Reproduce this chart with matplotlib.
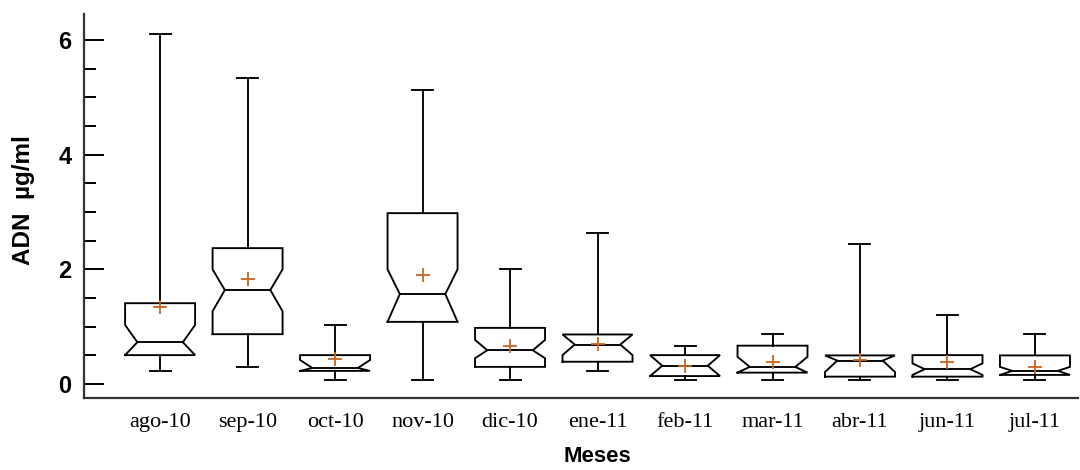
import numpy as np
import matplotlib
matplotlib.use("Agg")
import matplotlib.pyplot as plt
from matplotlib.ticker import MultipleLocator

meses = ["ago-10", "sep-10", "oct-10", "nov-10", "dic-10", "ene-11",
         "feb-11", "mar-11", "abr-11", "jun-11", "jul-11"]
bigote_inf = [0.23, 0.30, 0.065, 0.065, 0.07, 0.23, 0.065, 0.065, 0.07, 0.07, 0.07]
q1 = [0.505, 0.87, 0.23, 1.085, 0.30, 0.39, 0.14, 0.20, 0.13, 0.13, 0.16]
mediana = [0.73, 1.64, 0.28, 1.57, 0.59, 0.69, 0.32, 0.30, 0.41, 0.26, 0.23]
q3 = [1.41, 2.37, 0.505, 2.98, 0.98, 0.865, 0.505, 0.67, 0.50, 0.505, 0.50]
bigote_sup = [6.10, 5.33, 1.03, 5.12, 2.00, 2.64, 0.67, 0.865, 2.44, 1.20, 0.865]
media = [1.35, 1.83, 0.44, 1.90, 0.67, 0.70, 0.32, 0.39, 0.42, 0.38, 0.30]
muesca_inf = [0.505, 1.27, 0.23, 1.085, 0.45, 0.505, 0.14, 0.20, 0.21, 0.16, 0.16]
muesca_sup = [1.03, 2.00, 0.42, 2.00, 0.77, 0.865, 0.505, 0.475, 0.50, 0.36, 0.30]

fig = plt.figure(figsize=(10.8, 4.7), dpi=100)
ax = fig.add_axes([0.078, 0.153, 0.92, 0.817])

w = 0.40    # half box width
wn = 0.26   # half width at the notch
cap = 0.12
lw = 1.35
for i, m in enumerate(meses):
    x = i + 1
    lo = max(muesca_inf[i], q1[i])
    hi = min(muesca_sup[i], q3[i])
    xs = [x - w, x - w, x - wn, x - w, x - w, x + w, x + w, x + wn, x + w, x + w, x - w]
    ys = [q1[i], lo, mediana[i], hi, q3[i], q3[i], hi, mediana[i], lo, q1[i], q1[i]]
    ax.plot(xs, ys, color="black", lw=lw, solid_joinstyle="miter")
    ax.plot([x - wn, x + wn], [mediana[i]] * 2, color="black", lw=lw)
    ax.plot([x, x], [q3[i], bigote_sup[i]], color="black", lw=lw)
    ax.plot([x, x], [q1[i], bigote_inf[i]], color="black", lw=lw)
    ax.plot([x - cap, x + cap], [bigote_sup[i]] * 2, color="black", lw=lw)
    ax.plot([x - cap, x + cap], [bigote_inf[i]] * 2, color="black", lw=lw)

ax.plot(np.arange(1, len(meses) + 1), media, linestyle="none", marker="+",
        color="#c8661f", markersize=10, markeredgewidth=1.3)

ax.set_xlim(0.133, 11.49)
ax.set_ylim(-0.244, 6.45)
ax.set_xticks(np.arange(1, len(meses) + 1))
ax.set_xticklabels(meses, family="Liberation Serif", fontsize=16)
ax.tick_params(axis="x", length=0, pad=11)
ax.yaxis.set_major_locator(MultipleLocator(2))
ax.yaxis.set_minor_locator(MultipleLocator(0.5))
ax.tick_params(axis="y", which="major", direction="in", length=14.5, width=1.4, pad=9)
ax.tick_params(axis="y", which="minor", direction="in", length=8.6, width=1.4)
for t in ax.get_yticklabels():
    t.set_fontweight("bold")
    t.set_fontsize(17)
    t.set_family("Liberation Sans")

for s in ["top", "right"]:
    ax.spines[s].set_visible(False)
for s in ["left", "bottom"]:
    ax.spines[s].set_linewidth(1.6)
    ax.spines[s].set_color("#333333")

fig.text(0.022, 0.574, "ADN  \u00b5g/ml", rotation=90, ha="center", va="center",
         fontsize=17.5, fontweight="bold", family="Liberation Sans")
fig.text(0.553, 0.028, "Meses", ha="center", va="center",
         fontsize=16, fontweight="bold", family="Liberation Sans")

fig.savefig("out.png", dpi=100)
